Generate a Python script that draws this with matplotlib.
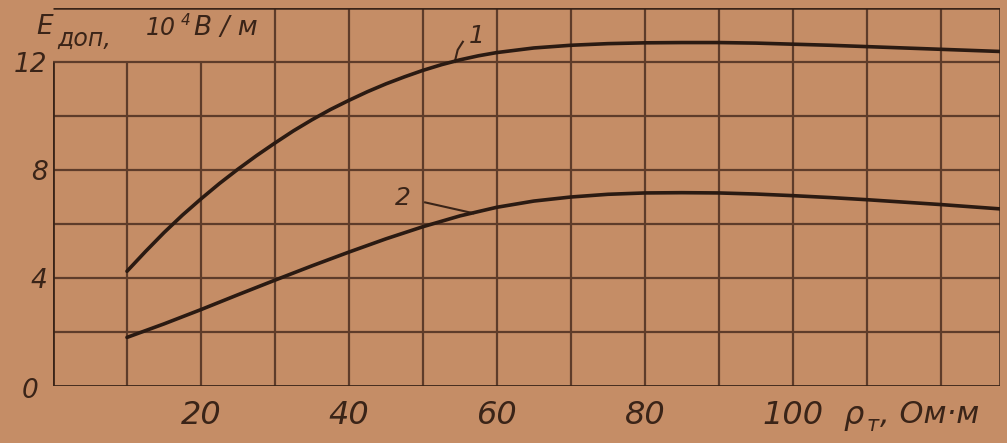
import matplotlib.pyplot as plt
import numpy as np

# =========================
# Data
# =========================
rho1 = [10, 12.5, 15, 17.5, 20, 22.5, 25, 27.5, 30, 32.5, 35, 37.5, 40,
        42.5, 45, 47.5, 50, 52.5, 55, 57.5, 60, 65, 70, 75, 80, 85, 90,
        95, 100, 105, 110, 115, 120, 125, 128]
E1 = [4.25, 4.98, 5.68, 6.33, 6.93, 7.5, 8.03, 8.53, 9.0, 9.45, 9.86, 10.24, 10.58,
      10.9, 11.19, 11.45, 11.69, 11.9, 12.08, 12.23, 12.35, 12.52, 12.62, 12.68, 12.71, 12.72, 12.72,
      12.7, 12.66, 12.62, 12.57, 12.52, 12.47, 12.42, 12.39]

rho2 = [10, 15, 20, 25, 30, 35, 40, 45, 50, 55, 60, 65, 70, 75, 80, 85,
        90, 95, 100, 105, 110, 115, 120, 125, 128]
E2 = [1.8, 2.3, 2.83, 3.38, 3.92, 4.45, 4.96, 5.45, 5.9, 6.3, 6.62, 6.85, 7.0, 7.1, 7.15, 7.16,
      7.15, 7.11, 7.05, 6.98, 6.9, 6.81, 6.72, 6.62, 6.56]

x_ticks = [20, 40, 60, 80, 100]
y_ticks = [4, 8, 12]

# =========================
# Colours (photo of a printed page)
# =========================
paper = "#c58d66"
ink = "#3a2418"
grid_ink = "#5e3c2a"

fig = plt.figure(figsize=(10.07, 4.43), dpi=100, facecolor=paper)
ax = fig.add_axes([53 / 1007, 1 - 386 / 443, (1000 - 53) / 1007, (386 - 8) / 443])
ax.set_facecolor(paper)

ax.set_xlim(0, 128)
ax.set_ylim(0, 14)

# grid: header row (12..14) has no lines left of x=30
for gx in np.arange(10, 121, 10):
    top = 14 if gx >= 30 else 12
    ax.vlines(gx, 0, top, color=grid_ink, lw=1.6, zorder=1)
for gy in np.arange(2, 13, 2):
    ax.hlines(gy, 0, 128, color=grid_ink, lw=1.6, zorder=1)

# frame: left side only up to 12
for s in ["left", "right", "top", "bottom"]:
    ax.spines[s].set_visible(False)
ax.vlines(0, 0, 12, color=ink, lw=2.0, zorder=2)
ax.hlines(0, 0, 128, color=ink, lw=2.0, zorder=2)
ax.hlines(14, 0, 128, color=ink, lw=1.8, zorder=2)
ax.vlines(128, 0, 14, color=ink, lw=1.8, zorder=2)

# curves
ax.plot(rho1, E1, color="#2a1a12", lw=2.6, solid_capstyle="round", zorder=3)
ax.plot(rho2, E2, color="#2a1a12", lw=2.6, solid_capstyle="round", zorder=3)

# curve labels with leaders
ax.text(57.3, 12.95, "1", fontsize=18, style="italic", color=ink, ha="center", va="center")
ax.plot([54.3, 54.7, 55.4], [12.0, 12.45, 12.75], color=ink, lw=1.5)
ax.text(47.3, 6.95, "2", fontsize=18, style="italic", color=ink, ha="center", va="center")
ax.plot([50.3, 56.8], [6.8, 6.4], color=ink, lw=1.5)

# ticks
ax.set_xticks(x_ticks)
ax.set_xticklabels([str(v) for v in x_ticks], fontsize=23, style="italic", color=ink)
ax.set_yticks(y_ticks)
ax.set_yticklabels([str(v) for v in y_ticks], fontsize=19, style="italic", color=ink)
ax.tick_params(axis="x", length=0, pad=10)
ax.tick_params(axis="y", length=0, pad=4)
ax.text(-2.0, -0.2, "0", fontsize=19, style="italic", color=ink, ha="right", va="center")

# axis captions
ax.text(-2.3, 13.3, "E", fontsize=19, style="italic", color=ink, ha="left", va="center", clip_on=False)
ax.text(0.6, 12.85, "доп,", fontsize=17, style="italic", color=ink, ha="left", va="center")
ax.text(12.6, 13.25, "10", fontsize=17, style="italic", color=ink, ha="left", va="center")
ax.text(17.2, 13.55, "4", fontsize=11, style="italic", color=ink, ha="left", va="center")
ax.text(19.0, 13.25, "В / м", fontsize=19, style="italic", color=ink, ha="left", va="center")

ax.text(106.8, -1.1, "ρ", fontsize=23, style="italic", color=ink, ha="left", va="center", clip_on=False)
ax.text(109.9, -1.45, "т", fontsize=15, style="italic", color=ink, ha="left", va="center", clip_on=False)
ax.text(111.8, -1.05, ", Ом·м", fontsize=22, style="italic", color=ink, ha="left", va="center", clip_on=False)

fig.savefig("out.png", dpi=100, facecolor=paper)
